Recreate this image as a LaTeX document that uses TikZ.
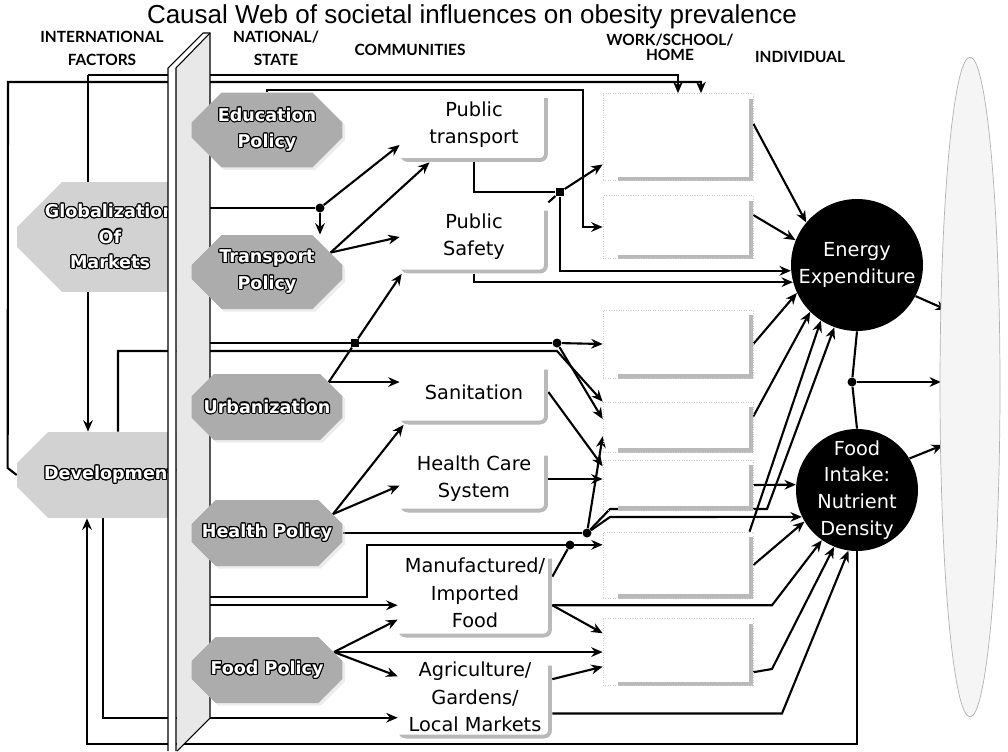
\documentclass[tikz,border=0pt]{standalone}
\usepackage{fontspec}
\setmainfont{DejaVu Sans}
\newfontfamily\titlefont{Liberation Sans}
\newfontfamily\headfont{Lato}
\usepackage[copies]{contour}
\contourlength{0.6pt}
\usetikzlibrary{arrows.meta,shapes.misc,shapes.geometric,calc,shadows,backgrounds}

\begin{document}
\begin{tikzpicture}[x=0.02cm,y=-0.02cm,
  line/.style={draw,line width=1.2pt},
  arr/.style={line,-{Stealth[length=6.5pt,width=5.5pt]}},
  dot/.style={circle,fill,inner sep=0pt,minimum size=0.18cm},
  sqdot/.style={rectangle,fill,inner sep=0pt,minimum size=0.17cm},
  head/.style={font=\headfont\bfseries\fontsize{8.8}{13}\selectfont,align=center,inner sep=0pt},
  intl/.style={chamfered rectangle,chamfered rectangle corners={north west,south west},
    chamfered rectangle xsep=0.46cm,chamfered rectangle ysep=0.44cm,
    fill=gray!35,minimum width=3.72cm,inner sep=0pt,text=white,align=center,
    font=\bfseries\fontsize{10}{14.5}\selectfont},
  policy/.style={chamfered rectangle,chamfered rectangle xsep=0.3cm,chamfered rectangle ysep=0.3cm,
    fill=gray!65,minimum width=3.02cm,minimum height=1.32cm,inner sep=0pt,text=white,align=center,
    font=\bfseries\fontsize{10}{15}\selectfont,
    drop shadow={shadow xshift=1.5pt,shadow yshift=-1.5pt,fill=gray!30}},
  comm/.style={rectangle,rounded corners=0.16cm,minimum width=2.96cm,inner sep=0pt,align=center,
    font=\fontsize{11}{15.5}\selectfont,
    path picture={\draw[gray!55,line width=4.5pt]
      ([yshift=-0.2cm]path picture bounding box.north east) -- (path picture bounding box.south east)
      -- (path picture bounding box.south west);}},
  work/.style={rectangle,draw=gray!40,densely dotted,minimum width=3cm,inner sep=0pt,
    path picture={\draw[gray!55,line width=4.5pt,solid]
      ([yshift=-0.1cm]path picture bounding box.north east) -- (path picture bounding box.south east)
      -- ([xshift=0.3cm]path picture bounding box.south west);}},
  indiv/.style={circle,fill=black,text=white,inner sep=0pt,align=center,
    font=\fontsize{11}{15.3}\selectfont},
]
\useasboundingbox (0,0) rectangle (1008,751);

% headings
\node[font=\titlefont\fontsize{14.8}{17}\selectfont,inner sep=0pt] (title) at (472,17) {Causal Web of societal influences on obesity prevalence};
\node[head] (hintl) at (102,48) {INTERNATIONAL\\FACTORS};
\node[head] (hnat) at (276,48) {NATIONAL/\\STATE};
\node[head] (hcomm) at (410,50) {COMMUNITIES};
\node[head,font=\headfont\bfseries\fontsize{8.8}{8.5}\selectfont] (hwork) at (670,47) {WORK/SCHOOL/\\HOME};
\node[head] (hind) at (800,57) {INDIVIDUAL};

% international factors
\node[intl,minimum height=1.78cm] (glob) at (110,237) {\contour{black}{Globalization}\\\contour{black}{Of}\\\contour{black}{Markets}};
\node[intl,minimum height=1.72cm] (dev) at (110,475) {\contour{black}{Development}};

% the wall
\fill[white] (168,751) -- (168,68) -- (203,33) -- (210,33) -- (176,68) -- (176,751) -- cycle;
\fill[gray!18] (176,68) -- (210,33) -- (210,718) -- (177,751) -- cycle;
\draw[line width=0.6pt] (168,751) -- (168,68) -- (203,33) -- (210,33) -- (210,718) -- (177,751);
\draw[line width=0.6pt] (176,751) -- (176,68) -- (210,33);

% national / state
\node[policy] (edu) at (267,130) {\contour{black}{Education}\\\contour{black}{Policy}};
\node[policy] (trans) at (267,272) {\contour{black}{Transport}\\\contour{black}{Policy}};
\node[policy] (urban) at (267,407) {\contour{black}{Urbanization}};
\node[policy] (health) at (267,533) {\contour{black}{Health Policy}};
\node[policy] (food) at (267,670) {\contour{black}{Food Policy}};

% communities
\node[comm,minimum height=1.48cm] (ptrans) at (474,125) {Public\\transport};
\node[comm,minimum height=1.46cm] (psafe) at (474,237) {Public\\Safety};
\node[comm,minimum height=1.3cm] (sanit) at (474,392) {Sanitation};
\node[comm,minimum height=1.34cm] (hcare) at (474,479) {Health Care\\System};
\node[comm,minimum width=3.08cm,minimum height=1.78cm] (manuf) at (475,593) {Manufactured/\\Imported\\Food};
\node[comm,minimum width=3.08cm,minimum height=1.66cm] (agri) at (475,697) {Agriculture/\\Gardens/\\Local Markets};

% work / school / home
\node[work,minimum height=1.74cm] (w1) at (678,137) {};
\node[work,minimum height=1.26cm] (w2) at (678,227) {};
\node[work,minimum height=1.36cm] (w3) at (678,344) {};
\node[work,minimum height=1.0cm] (w4) at (678,427) {};
\node[work,minimum height=1.0cm] (w5) at (678,485) {};
\node[work,minimum height=1.32cm] (w6) at (678,565) {};
\node[work,minimum height=1.34cm] (w7) at (678,652) {};

% individual
\node[indiv,minimum size=2.64cm] (energy) at (857,265) {Energy\\Expenditure};
\node[indiv,minimum size=2.44cm,inner sep=-5pt] (intake) at (857,490) {Food\\Intake:\\Nutrient\\Density};
\node[ellipse,fill=gray!8,draw=gray!60,minimum width=1.2cm,minimum height=13.2cm] (obesity) at (970,387) {};

% junctions
\coordinate (gtop) at (88,75);
\coordinate (dtop) at (8,82);
\coordinate (etop) at (583,90);
\coordinate (wall) at (195,0);
\node[dot] (d1) at (320,208) {};
\node[sqdot] (sq1) at (560,192) {};
\node[sqdot] (sq2) at (355,343) {};
\node[dot] (d2) at (557,343) {};
\coordinate (u1) at (557,351);
\node[dot] (d3) at (587,533) {};
\coordinate (h1) at (610,509);
\coordinate (h2) at (767,509);
\coordinate (h3) at (610,517);
\coordinate (f1) at (367,597);
\node[dot] (d4) at (570,545) {};
\coordinate (m1) at (772,607);
\coordinate (w7r) at (772,669);
\coordinate (a1) at (782,714);
\coordinate (fb) at (87,744);
\node[dot] (d5) at (852,382) {};
\coordinate (ob1) at (947,310);
\coordinate (ob2) at (941,382);
\coordinate (ob3) at (943,445);

\begin{scope}[on background layer]
\draw[arr] (gtop) -- (gtop |- dev.north);
\draw[arr] (gtop) -| (w1.north);
\draw[arr] (dev.west) -- ++(-9,-7) -- (dtop) -| ($(w1.north)+(23,0)$);
\draw[arr] (edu.north) |- (etop) |- (w2.west);
% transport
\draw[line] (wall |- d1) -- (d1);
\draw[arr] (d1) -- (d1 |- trans.north);
\draw[arr] (d1) -- (ptrans.195);
\draw[arr] (trans.17) -- (ptrans.220);
\draw[arr] (trans.17) -- (psafe.west);
\draw[line] (ptrans.south) |- (sq1);
\draw[arr] (psafe.25) -- (sq1) -- (w1.200);
\draw[arr] (sq1) |- (energy.185);
\draw[arr] (psafe.south) |- (energy.195);
% urbanization
\draw[line] (wall |- sq2) -- (d2);
\draw[arr] (d2) -- (w3.west);
\draw[arr] (d2) -- (w4.174);
\draw[arr] (urban.22) -- (sq2) -- (psafe.207);
\draw[arr] (urban.22) -- (urban.22 -| sanit.west);
\draw[arr] ($(dev.north)+(8,0)$) |- (u1) -- (w4.north west);
% health
\draw[arr] (health.16) -- (sanit.205);
\draw[arr] (health.16) -- (hcare.185);
\draw[line] (health.east) -- (d3);
\draw[arr] (d3) -- (w4.187);
\draw[arr] (d3) -- (h1) -- (h2) -- (energy.250);
\draw[arr] (d3) -- (h3) -- (intake.206);
\draw[arr] (sanit.east) -- (w5.166);
\draw[arr] (hcare.east) -- (hcare.east -| w5.west);
% food
\draw[arr] (wall |- f1) -- (f1) |- (w6.165);
\draw[arr] (wall |- manuf.189) -- (manuf.189);
\draw[arr] (food.15) -- (manuf.199);
\draw[arr] (food.15) -- (agri.165);
\draw[arr] (food.15) -- (food.15 -| w7.west);
\draw[arr] ($(dev.south)+(-7,0)$) |- (agri.195);
\draw[arr] (intake.south) |- (fb) -- (fb |- dev.south);
\draw[line] (manuf.12) -- (d4);
\draw[arr] (manuf.351) -- (w7.166);
\draw[arr] (manuf.351) -- (manuf.351 -| m1) -- (intake.235);
\draw[arr] (agri.13) -- (w7.191);
\draw[arr] (agri.348) -- (agri.348 -| a1) -- (intake.262);
% work to individual
\draw[arr] (w1.10) -- (energy.140);
\draw[arr] (w2.9) -- (energy.158);
\draw[arr] (w3.east) -- (energy.205);
\draw[arr] (w4.8) -- (energy.225);
\draw[arr] (w6.25) -- (energy.237);
\draw[arr] (w5.east) -- (intake.175);
\draw[arr] (w6.east) -- (intake.211);
\draw[arr] (w7.345) -- (w7r) -- (intake.248);
% individual to obesity
\draw[line] (energy.south) -- (d5) -- (intake.north);
\draw[arr] (energy.332) -- (ob1);
\draw[arr] (d5) -- (ob2);
\draw[arr] (intake.31) -- (ob3);
\end{scope}
\end{tikzpicture}
\end{document}
